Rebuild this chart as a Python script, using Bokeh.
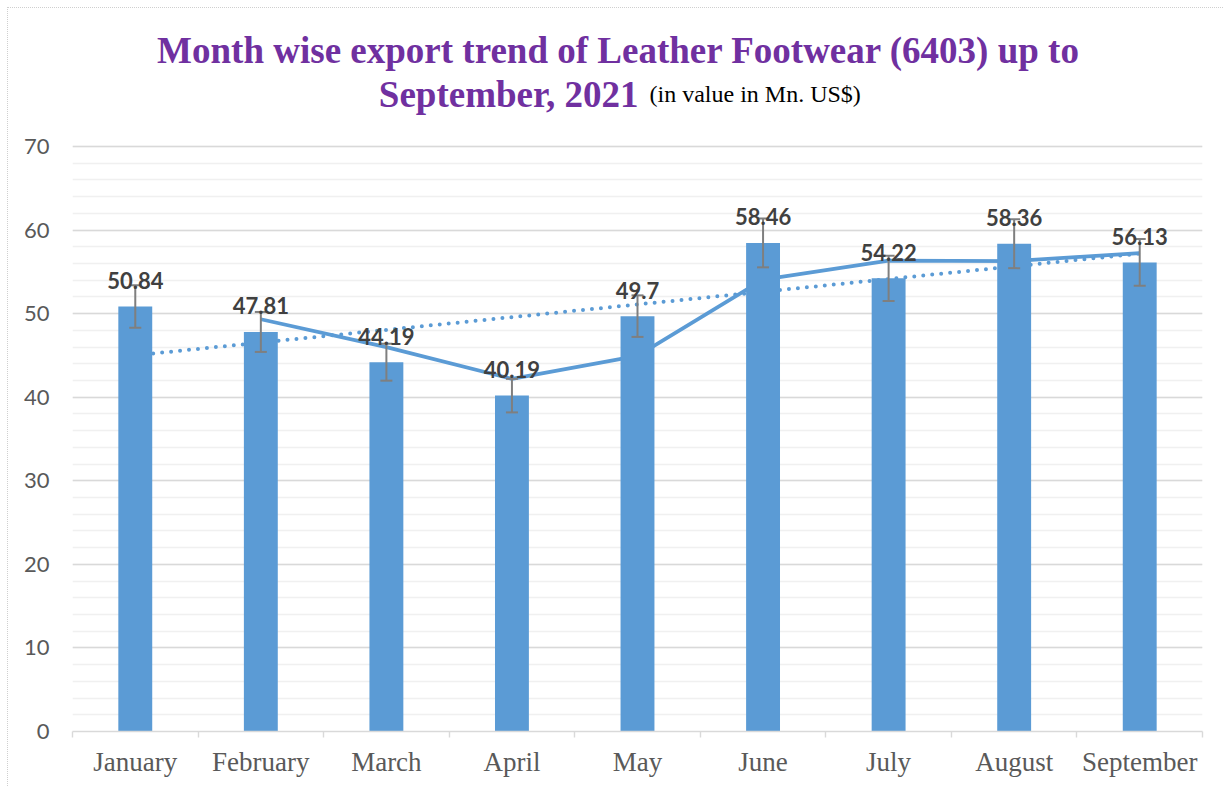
from bokeh.plotting import figure
from bokeh.models import (FactorRange, Range1d, LinearAxis, FixedTicker,
                          SingleIntervalTicker, ColumnDataSource)
from bokeh.core.properties import value
from bokeh.embed import file_html
from bokeh.resources import INLINE

# ---- data ----
months = ["January", "February", "March", "April", "May",
          "June", "July", "August", "September"]
export_values = [50.84, 47.81, 44.19, 40.19, 49.7, 58.46, 54.22, 58.36, 56.13]
# 2-period moving average (starts at February)
ma_months = ["February", "March", "April", "May", "June", "July", "August", "September"]
ma_values = [49.33, 46.00, 42.19, 44.95, 54.08, 56.34, 56.29, 57.25]
# linear trend end points
trend_months = ["January", "September"]
trend_values = [45.02, 57.18]
error_percent = 5
y_axis_max = 70
y_ticks_interval = 10

BAR = "#5B9BD5"
GRAY_TXT = "#595959"
PURPLE = "#7030A0"

src = ColumnDataSource(dict(
    month=months,
    val=export_values,
    lo=[v * (1 - error_percent / 100) for v in export_values],
    hi=[v * (1 + error_percent / 100) for v in export_values],
    lbl=[str(v) for v in export_values],
))

# the frame extends up to the top of the canvas so that the title can be
# drawn as text inside it; grid and axis are bounded to 0..70
p = figure(x_range=FactorRange(*months, range_padding=0), y_range=Range1d(0, 86.51),
           width=1216, height=779, output_backend="svg", toolbar_location=None,
           x_axis_type=None, min_border_left=64, min_border_right=22,
           min_border_top=0, min_border_bottom=56,
           styles={"margin-left": "7px", "margin-top": "7px",
                   "border-left": "1px dotted #CFCFCF", "border-top": "1px dotted #CFCFCF"})
p.outline_line_color = None
p.background_fill_color = "white"
p.border_fill_color = "white"

# grid
p.xgrid.grid_line_color = None
p.yaxis.ticker = SingleIntervalTicker(interval=y_ticks_interval, num_minor_ticks=5)
p.yaxis.bounds = (0, y_axis_max)
p.ygrid.bounds = (0, y_axis_max)
p.ygrid.grid_line_color = "#D9D9D9"
p.ygrid.grid_line_width = 1.4
p.ygrid.minor_grid_line_color = "#F0F0F0"
p.ygrid.minor_grid_line_width = 1.4

# y axis
p.yaxis.axis_line_color = None
p.yaxis.major_tick_line_color = None
p.yaxis.minor_tick_line_color = None
p.yaxis.major_tick_out = 0
p.yaxis.major_label_standoff = 19
p.yaxis.major_label_text_font = "Lato"
p.yaxis.major_label_text_font_size = "22px"
p.yaxis.major_label_text_color = GRAY_TXT

# x axis: labels at category centres, tick marks at category boundaries
centres = [i + 0.5 for i in range(len(months))]
bounds = list(range(len(months) + 1))
xaxis = LinearAxis(ticker=FixedTicker(ticks=centres, minor_ticks=bounds),
                   major_label_overrides={c: m for c, m in zip(centres, months)})
xaxis.axis_line_color = "#D9D9D9"
xaxis.axis_line_width = 1.4
xaxis.major_tick_line_color = None
xaxis.major_tick_out = 6
xaxis.major_tick_in = 0
xaxis.minor_tick_line_color = "#D9D9D9"
xaxis.minor_tick_line_width = 1.4
xaxis.minor_tick_out = 6
xaxis.minor_tick_in = 0
xaxis.major_label_standoff = 9
xaxis.major_label_text_font = "Liberation Serif"
xaxis.major_label_text_font_size = "27px"
xaxis.major_label_text_color = GRAY_TXT
p.add_layout(xaxis, "below")

# trend lines (behind bars)
p.line(x=trend_months, y=trend_values, line_color=BAR, line_width=4,
       line_dash="0 9", line_cap="round")
p.line(x=ma_months, y=ma_values, line_color=BAR, line_width=3.75)

# bars
p.vbar(x="month", top="val", width=0.27, source=src, fill_color=BAR, line_color=None)

# error bars
p.segment(x0="month", y0="lo", x1="month", y1="hi", source=src,
          line_color="#7F7F7F", line_width=2)
p.scatter(x="month", y="hi", source=src, marker="dash", size=12,
          line_color="#7F7F7F", line_width=2)
p.scatter(x="month", y="lo", source=src, marker="dash", size=12,
          line_color="#7F7F7F", line_width=2)

# data labels
p.text(x="month", y="val", text="lbl", source=src, y_offset=-26,
       text_align="center", text_baseline="alphabetic",
       text_font=value("Lato"), text_font_style="bold",
       text_font_size="22px", text_color="#404040")

# title (two lines, mixed styles)
p.text(x=[4.35], y=[80.05], text=["Month wise export trend of Leather Footwear (6403) up to"],
       y_offset=-12, text_align="center", text_baseline="alphabetic",
       text_font=value("Liberation Serif"), text_font_style="bold",
       text_font_size="37px", text_color=PURPLE)
p.text(x=[4.508], y=[74.79], text=["September, 2021"],
       y_offset=-12, text_align="right", text_baseline="alphabetic",
       text_font=value("Liberation Serif"), text_font_style="bold",
       text_font_size="37px", text_color=PURPLE)
p.text(x=[4.596], y=[74.79], text=["(in value in Mn. US$)"],
       y_offset=-12, text_align="left", text_baseline="alphabetic",
       text_font=value("Liberation Serif"), text_font_style="normal",
       text_font_size="24px", text_color="#000000")

open("out.html", "w").write(file_html(p, INLINE))
